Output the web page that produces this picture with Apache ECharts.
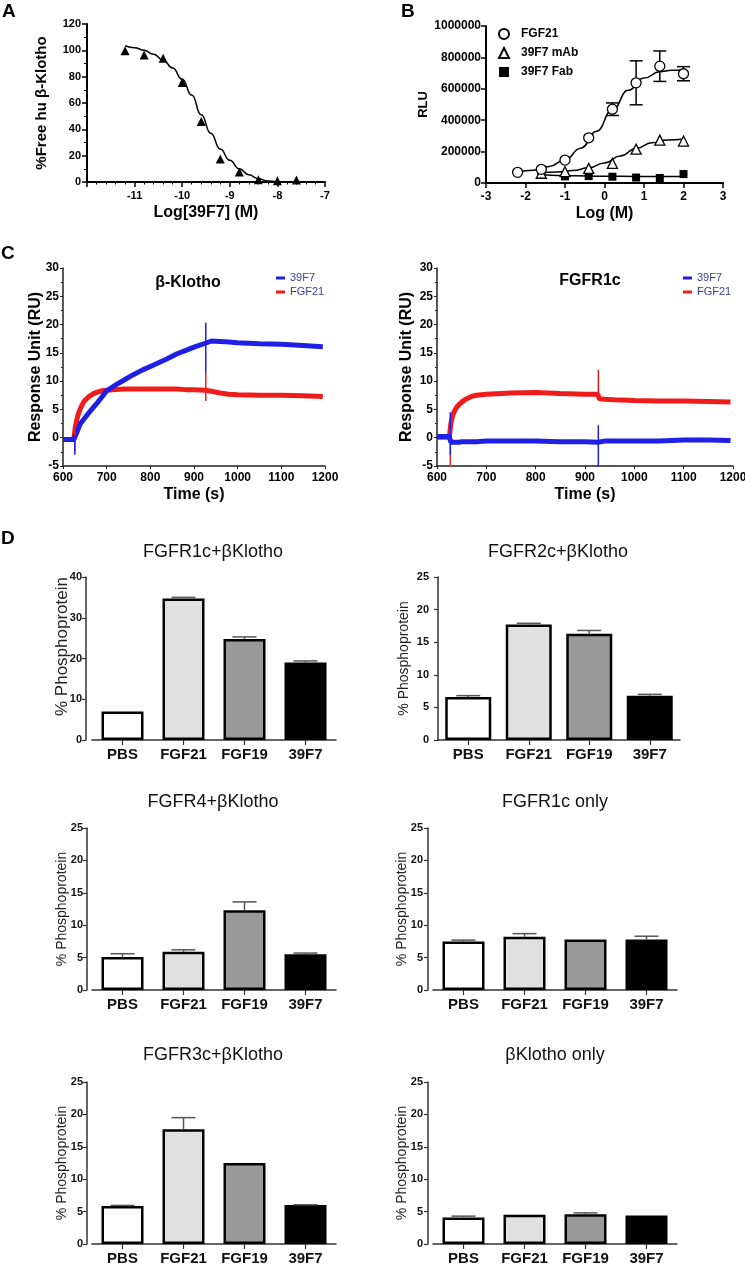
<!DOCTYPE html>
<html><head><meta charset="utf-8">
<script src="https://cdn.jsdelivr.net/npm/echarts@6/dist/echarts.min.js"></script>
<style>html,body{margin:0;padding:0;background:#fff}#c{width:745px;height:1265px}</style>
</head><body><div id="c"></div>
<script>
const FF = "'Liberation Sans', Arial, Helvetica, sans-serif";

// ---------- Panel A: binding competition ----------
const aLogConc = [-11.2, -10.8, -10.4, -10.0, -9.6, -9.2, -8.8, -8.4, -8.0, -7.6];
const aFreePct = [99.7, 96.5, 94, 75.5, 46, 17.4, 7.6, 1.8, 1, 1.5];
const aFitX = [-11.2, -11.0, -10.8, -10.6, -10.4, -10.2, -10.0, -9.8, -9.6, -9.4, -9.2, -9.0, -8.8, -8.6, -8.4, -8.2, -8.0];
const aFitY = [103.5, 102, 100, 97, 92.5, 86.5, 78, 66, 51, 37, 25, 16.5, 10, 5.5, 2.5, 0.8, 0];

// ---------- Panel B: luciferase ----------
const bLogDose = [-2.2, -1.6, -1.0, -0.4, 0.2, 0.8, 1.4, 2.0];
const bFgf21 = [68000, 87000, 146000, 288000, 470000, 638000, 744000, 696000];
const bFgf21Err = [0, 0, 0, 0, 40000, 140000, 97000, 45000];
const bAbDose = [-1.6, -1.0, -0.4, 0.2, 0.8, 1.4, 2.0];
const bMab = [62000, 72000, 93000, 125000, 216000, 273000, 267000];
const bFab = [53000, 42000, 44000, 40000, 35000, 32000, 57000];
const bFgf21FitX = [-2.2, -1.8, -1.4, -1.0, -0.6, -0.2, 0.2, 0.6, 1.0, 1.4, 1.7, 2.0];
const bFgf21FitY = [70000, 82000, 105000, 148000, 222000, 330000, 466000, 590000, 668000, 708000, 718000, 722000];
const bMabFitX = [-1.6, -1.2, -0.8, -0.4, 0, 0.4, 0.8, 1.2, 1.6, 2.0];
const bMabFitY = [66000, 70000, 79000, 97000, 128000, 172000, 220000, 256000, 274000, 281000];
const bFabFitX = [-1.6, -0.8, 0, 0.8, 1.6, 2.0];
const bFabFitY = [52000, 46000, 43000, 42000, 42000, 42000];

// ---------- Panel C: sensorgrams ----------
const cTimeL = [600, 610, 620, 625, 628, 632, 636, 640, 645, 650, 660, 670, 680, 690, 700, 720, 740, 760, 780, 800, 820, 840, 860, 880, 900, 926, 940, 960, 980, 1000, 1050, 1100, 1150, 1195];
const cKlotho39F7 = [-0.3, -0.3, -0.3, -0.3, 0.3, 1.0, 1.8, 2.5, 3.0, 3.5, 4.5, 5.4, 6.3, 7.3, 8.3, 9.3, 10.2, 11.1, 11.9, 12.6, 13.3, 14.0, 14.8, 15.4, 16.0, 16.7, 17.1, 17.0, 16.9, 16.8, 16.6, 16.5, 16.3, 16.1];
const cKlothoFGF21 = [-0.3, -0.3, -0.3, -0.2, 1.8, 3.3, 4.4, 5.2, 6.0, 6.6, 7.3, 7.8, 8.1, 8.3, 8.4, 8.5, 8.6, 8.6, 8.6, 8.6, 8.6, 8.6, 8.6, 8.5, 8.5, 8.4, 8.2, 7.9, 7.7, 7.6, 7.5, 7.5, 7.4, 7.3];
const cTimeR = [600, 610, 620, 625, 628, 632, 636, 640, 645, 650, 660, 670, 680, 700, 750, 800, 850, 900, 926, 929, 940, 960, 1000, 1050, 1100, 1150, 1195];
const cR1c39F7 = [0.2, 0.2, 0.2, 0.2, -0.8, -0.8, -0.8, -0.8, -0.8, -0.7, -0.7, -0.7, -0.7, -0.6, -0.6, -0.6, -0.7, -0.7, -0.8, -0.6, -0.6, -0.6, -0.6, -0.6, -0.4, -0.4, -0.5];
const cR1cFGF21 = [0.1, 0.1, 0.1, 0.1, 2.5, 4.0, 4.8, 5.4, 5.9, 6.3, 6.9, 7.3, 7.5, 7.7, 7.9, 8.0, 7.8, 7.7, 7.7, 6.9, 6.8, 6.7, 6.6, 6.5, 6.5, 6.4, 6.3];
// injection spikes: time, low, high
const cSpikeTime = [627, 927];
const cSpikeKlotho39F7Lo = [-3.0, 11.5], cSpikeKlotho39F7Hi = [0.5, 20.3];
const cSpikeKlothoFGF21Lo = [-2.5, 6.5], cSpikeKlothoFGF21Hi = [3.0, 11.5];
const cSpikeR1c39F7Lo = [-3.0, -5.0], cSpikeR1c39F7Hi = [4.5, 2.2];
const cSpikeR1cFGF21Lo = [-5.0, 7.0], cSpikeR1cFGF21Hi = [3.0, 12.0];

// ---------- Panel D: phosphoprotein bars ----------
const dCategories = ['PBS', 'FGF21', 'FGF19', '39F7'];
const dTitles = ['FGFR1c+βKlotho', 'FGFR2c+βKlotho', 'FGFR4+βKlotho', 'FGFR1c only', 'FGFR3c+βKlotho', 'βKlotho only'];
const dR1cKlotho = [7.0, 34.7, 24.8, 19.0], dR1cKlothoErr = [0, 0.3, 0.5, 0.4];
const dR2cKlotho = [6.6, 17.7, 16.3, 6.8], dR2cKlothoErr = [0.2, 0.2, 0.5, 0.2];
const dR4Klotho = [5.1, 5.9, 12.3, 5.5], dR4KlothoErr = [0.5, 0.3, 1.3, 0.2];
const dR1cOnly = [7.5, 8.2, 7.8, 7.8], dR1cOnlyErr = [0.2, 0.5, 0, 0.5];
const dR3cKlotho = [5.85, 17.7, 12.5, 6.0], dR3cKlothoErr = [0.1, 1.8, 0, 0.05];
const dKlothoOnly = [4.1, 4.5, 4.6, 4.4], dKlothoOnlyErr = [0.2, 0, 0.2, 0];
const dYMax = [40, 25, 25, 25, 25, 25];
const dYInterval = [10, 5, 5, 5, 5, 5];

// ---------- layout ----------
const dValues = [dR1cKlotho, dR2cKlotho, dR4Klotho, dR1cOnly, dR3cKlotho, dKlothoOnly];
const dErrs = [dR1cKlothoErr, dR2cKlothoErr, dR4KlothoErr, dR1cOnlyErr, dR3cKlothoErr, dKlothoOnlyErr];
const barColors = ['#ffffff', '#e0e0e0', '#999999', '#000000'];
const dGrids = [
  {left: 92, top: 577, width: 244, height: 163, off: 6, gap: 15.5, margin: 4, bw: 42, fs: 17, pad: [0, 0, 0, 24]},
  {left: 438, top: 577, width: 242, height: 163, off: 0, gap: 27, margin: 9, bw: 46, fs: 14, pad: 0},
  {left: 92, top: 828, width: 244, height: 162, off: 5, gap: 18, margin: 4, bw: 42, fs: 14, pad: 0},
  {left: 433, top: 828, width: 244, height: 162, off: 5, gap: 18.5, margin: 5, bw: 42, fs: 14, pad: 0},
  {left: 92, top: 1082, width: 244, height: 162, off: 5, gap: 18, margin: 4, bw: 42, fs: 14, pad: 0},
  {left: 433, top: 1082, width: 244, height: 162, off: 5, gap: 19, margin: 5, bw: 42, fs: 14, pad: 0}
];
const dTitlePos = [[213, 552], [558, 552], [213, 802], [555, 802], [213, 1055], [555, 1055]];

const grids = [
  {left: 87, top: 24, width: 238, height: 158},
  {left: 486, top: 26, width: 237, height: 157},
  {left: 63, top: 268, width: 262, height: 198},
  {left: 437, top: 268, width: 296, height: 198}
].concat(dGrids.map(g => ({left: g.left, top: g.top, width: g.width, height: g.height})));
grids.forEach(g => { g.outerBoundsMode = 'none'; g.containLabel = false; });

function valAxis(gi, min, max, interval, extra) {
  const ax = {
    type: 'value', gridIndex: gi, min: min, max: max, interval: interval,
    splitLine: {show: false},
    axisLine: {show: true, onZero: false, lineStyle: {color: '#000', width: 2}},
    axisTick: {show: true, inside: false, length: 5, lineStyle: {color: '#000', width: 1.5}},
    axisLabel: {fontFamily: FF, fontWeight: 'bold', fontSize: 11, color: '#000', margin: 6},
    nameLocation: 'middle', nameMoveOverlap: false,
    nameTextStyle: {fontFamily: FF, fontWeight: 'bold', fontSize: 15, color: '#000'}
  };
  if (extra) {
    for (const k in extra) {
      if (typeof extra[k] === 'object' && !Array.isArray(extra[k]) && ax[k] && typeof ax[k] === 'object') {
        ax[k] = Object.assign({}, ax[k], extra[k]);
      } else ax[k] = extra[k];
    }
  }
  return ax;
}

const cAxisLine = {lineStyle: {color: '#222', width: 1.5}};
const cAxisTick = {length: 3, lineStyle: {color: '#222', width: 1}};
const xAxes = [
  valAxis(0, -12, -7, 1, {name: 'Log[39F7] (M)', nameGap: 23, nameTextStyle: {fontSize: 16},
    axisLabel: {showMinLabel: false, margin: 8}, minorTick: {show: true, splitNumber: 5, length: 2.5, lineStyle: {color: '#000', width: 1}}}),
  valAxis(1, -3, 3, 1, {name: 'Log (M)', nameGap: 23, nameTextStyle: {fontSize: 16}, axisLabel: {fontSize: 12, margin: 8}}),
  valAxis(2, 600, 1200, 100, {name: 'Time (s)', nameGap: 21, nameTextStyle: {fontSize: 16},
    axisLine: cAxisLine, axisTick: cAxisTick, axisLabel: {fontSize: 12, margin: 6, formatter: v => String(v)}}),
  valAxis(3, 600, 1200, 100, {name: 'Time (s)', nameGap: 21, nameTextStyle: {fontSize: 16},
    axisLine: cAxisLine, axisTick: cAxisTick, axisLabel: {fontSize: 12, margin: 6, formatter: v => String(v)}})
];
const yAxes = [
  valAxis(0, 0, 120, 20, {name: '%Free hu β-Klotho', nameGap: 37.5,
    minorTick: {show: true, splitNumber: 2, length: 3, lineStyle: {color: '#000', width: 1}}}),
  valAxis(1, 0, 1000000, 200000, {name: 'RLU', nameGap: 56.5, nameTextStyle: {fontSize: 13},
    axisLabel: {fontSize: 12, margin: 5, formatter: v => String(v)}}),
  valAxis(2, -5, 30, 5, {name: 'Response Unit (RU)', nameGap: 19.5, nameTextStyle: {fontSize: 16},
    axisLine: cAxisLine, axisTick: cAxisTick,
    minorTick: {show: true, splitNumber: 2, length: 2, lineStyle: {color: '#222', width: 1}}, axisLabel: {fontSize: 12, margin: 4}}),
  valAxis(3, -5, 30, 5, {name: 'Response Unit (RU)', nameGap: 22.5, nameTextStyle: {fontSize: 16},
    axisLine: cAxisLine, axisTick: cAxisTick,
    minorTick: {show: true, splitNumber: 2, length: 2, lineStyle: {color: '#222', width: 1}}, axisLabel: {fontSize: 12, margin: 4}})
];

dGrids.forEach((g, i) => {
  const gi = 4 + i;
  xAxes.push({
    type: 'category', gridIndex: gi, data: dCategories,
    axisLine: {show: true, onZero: false, lineStyle: {color: '#333', width: 1.5}},
    axisTick: {show: true, alignWithLabel: true, length: 5, lineStyle: {color: '#333', width: 1.2}},
    axisLabel: {fontFamily: FF, fontWeight: 'bold', fontSize: 15, color: '#111', margin: 7, interval: 0},
    splitLine: {show: false}
  });
  yAxes.push(valAxis(gi, 0, dYMax[i], dYInterval[i], {
    offset: g.off, name: '% Phosphoprotein', nameGap: g.gap,
    nameTextStyle: {fontSize: g.fs, fontWeight: 'normal', color: '#222', padding: g.pad},
    axisLine: {lineStyle: {color: '#333', width: 1.5}},
    axisTick: {length: 4, lineStyle: {color: '#333', width: 1.2}},
    axisLabel: {fontSize: 11, margin: g.margin, color: '#111'}
  }));
});

function zip(xs, ys) { return xs.map((x, i) => [x, ys[i]]); }

function errRender(capHalf, color) {
  return function (params, api) {
    const x = api.value(0), y = api.value(1), e = api.value(2), both = api.value(3);
    if (!e) return null;
    const top = api.coord([x, y + e]);
    const bot = api.coord([x, both ? y - e : y]);
    const children = [
      {type: 'line', shape: {x1: top[0], y1: bot[1], x2: top[0], y2: top[1]}, style: {stroke: color, lineWidth: 1.5}},
      {type: 'line', shape: {x1: top[0] - capHalf, y1: top[1], x2: top[0] + capHalf, y2: top[1]}, style: {stroke: color, lineWidth: 1.5}}
    ];
    if (both) children.push({type: 'line', shape: {x1: bot[0] - capHalf, y1: bot[1], x2: bot[0] + capHalf, y2: bot[1]}, style: {stroke: color, lineWidth: 1.5}});
    return {type: 'group', children: children};
  };
}
function spikeSeries(gi, times, lo, hi, color) {
  return {
    type: 'custom', xAxisIndex: gi, yAxisIndex: gi, z: 4, silent: true,
    data: times.map((t, i) => [t, lo[i], hi[i]]),
    renderItem: function (params, api) {
      const a = api.coord([api.value(0), api.value(1)]);
      const b = api.coord([api.value(0), api.value(2)]);
      return {type: 'line', shape: {x1: a[0], y1: a[1], x2: b[0], y2: b[1]}, style: {stroke: color, lineWidth: 1.5}};
    }
  };
}

const BLUE = '#1f1fe6', RED = '#f01c1c';
const series = [
  // A
  {type: 'line', xAxisIndex: 0, yAxisIndex: 0, data: zip(aFitX, aFitY), smooth: true, smoothMonotone: 'x', showSymbol: false, lineStyle: {color: '#000', width: 1.5}, z: 2},
  {type: 'scatter', xAxisIndex: 0, yAxisIndex: 0, data: zip(aLogConc, aFreePct), symbol: 'triangle', symbolSize: 9, itemStyle: {color: '#000', opacity: 1}, z: 3},
  // B
  {type: 'custom', xAxisIndex: 1, yAxisIndex: 1, z: 1, data: bLogDose.map((x, i) => [x, bFgf21[i], bFgf21Err[i], 1]), renderItem: errRender(6.5, '#000')},
  {type: 'line', xAxisIndex: 1, yAxisIndex: 1, data: zip(bFgf21FitX, bFgf21FitY), smooth: true, smoothMonotone: 'x', showSymbol: false, lineStyle: {color: '#000', width: 1.5}, z: 2},
  {type: 'line', xAxisIndex: 1, yAxisIndex: 1, data: zip(bMabFitX, bMabFitY), smooth: true, smoothMonotone: 'x', showSymbol: false, lineStyle: {color: '#000', width: 1.5}, z: 2},
  {type: 'line', xAxisIndex: 1, yAxisIndex: 1, data: zip(bFabFitX, bFabFitY), smooth: true, smoothMonotone: 'x', showSymbol: false, lineStyle: {color: '#000', width: 1.5}, z: 2},
  {name: '39F7 Fab', type: 'scatter', xAxisIndex: 1, yAxisIndex: 1, data: zip(bAbDose, bFab), symbol: 'rect', symbolSize: 8, itemStyle: {color: '#000', opacity: 1}, z: 3},
  {name: '39F7 mAb', type: 'scatter', xAxisIndex: 1, yAxisIndex: 1, data: zip(bAbDose, bMab), symbol: 'triangle', symbolSize: 10, itemStyle: {color: '#fff', borderColor: '#000', borderWidth: 1.3, opacity: 1}, z: 4},
  {name: 'FGF21', type: 'scatter', xAxisIndex: 1, yAxisIndex: 1, data: zip(bLogDose, bFgf21), symbol: 'circle', symbolSize: 10, itemStyle: {color: '#fff', borderColor: '#000', borderWidth: 1.3, opacity: 1}, z: 4},
  // C left
  {name: 'FGF21 ', type: 'line', xAxisIndex: 2, yAxisIndex: 2, data: zip(cTimeL, cKlothoFGF21), showSymbol: false, lineStyle: {color: RED, width: 5}, itemStyle: {color: RED}, z: 2},
  {name: '39F7 ', type: 'line', xAxisIndex: 2, yAxisIndex: 2, data: zip(cTimeL, cKlotho39F7), showSymbol: false, lineStyle: {color: BLUE, width: 5}, itemStyle: {color: BLUE}, z: 3},
  spikeSeries(2, cSpikeTime, cSpikeKlothoFGF21Lo, cSpikeKlothoFGF21Hi, RED),
  spikeSeries(2, cSpikeTime, cSpikeKlotho39F7Lo, cSpikeKlotho39F7Hi, BLUE),
  // C right
  {name: 'FGF21 ', type: 'line', xAxisIndex: 3, yAxisIndex: 3, data: zip(cTimeR, cR1cFGF21), showSymbol: false, lineStyle: {color: RED, width: 5}, itemStyle: {color: RED}, z: 2},
  {name: '39F7 ', type: 'line', xAxisIndex: 3, yAxisIndex: 3, data: zip(cTimeR, cR1c39F7), showSymbol: false, lineStyle: {color: BLUE, width: 5}, itemStyle: {color: BLUE}, z: 3},
  spikeSeries(3, cSpikeTime, cSpikeR1cFGF21Lo, cSpikeR1cFGF21Hi, RED),
  spikeSeries(3, cSpikeTime, cSpikeR1c39F7Lo, cSpikeR1c39F7Hi, BLUE)
];

dGrids.forEach((g, i) => {
  const gi = 4 + i;
  series.push({
    type: 'bar', xAxisIndex: gi, yAxisIndex: gi, barWidth: g.bw, z: 2,
    data: dValues[i].map((v, j) => ({value: v, itemStyle: {color: barColors[j]}})),
    itemStyle: {borderColor: '#000', borderWidth: 2.5}
  });
  series.push({
    type: 'custom', xAxisIndex: gi, yAxisIndex: gi, z: 3, silent: true,
    data: dValues[i].map((v, j) => [j, v, dErrs[i][j], 0]),
    renderItem: errRender(12, '#555')
  });
});

const graphics = [];
[['A', 2, 12], ['B', 401, 12], ['C', 1, 254], ['D', 1, 539]].forEach(p => {
  graphics.push({type: 'text', x: p[1], y: p[2], style: {text: p[0], font: 'bold 19px ' + FF, fill: '#000', align: 'left', verticalAlign: 'middle', textAlign: 'left', textVerticalAlign: 'middle'}});
});
[['β-Klotho', 188, 283], ['FGFR1c', 590, 281]].forEach(p => {
  graphics.push({type: 'text', x: p[1], y: p[2], style: {text: p[0], font: 'bold 16px ' + FF, fill: '#000', align: 'center', verticalAlign: 'middle', textAlign: 'center', textVerticalAlign: 'middle'}});
});
dTitles.forEach((t, i) => {
  graphics.push({type: 'text', x: dTitlePos[i][0], y: dTitlePos[i][1], style: {text: t, font: '18px ' + FF, fill: '#111', align: 'center', verticalAlign: 'middle', textAlign: 'center', textVerticalAlign: 'middle'}});
});

const legends = [
  {data: [{name: 'FGF21', icon: 'circle'}, {name: '39F7 mAb', icon: 'triangle'}, {name: '39F7 Fab', icon: 'rect'}],
   left: 498, top: 28, padding: 0, orient: 'vertical',
   itemWidth: 10, itemHeight: 10, itemGap: 7, selectedMode: false,
   textStyle: {fontFamily: FF, fontWeight: 'bold', fontSize: 12, color: '#000', padding: [0, 0, 0, 7]}},
  {data: ['39F7 ', 'FGF21 '], left: 276, top: 272.5, padding: 0, orient: 'vertical', icon: 'rect', itemWidth: 9, itemHeight: 3, itemGap: 3,
   selectedMode: false, formatter: n => n.trim(), textStyle: {fontFamily: FF, fontSize: 11, color: '#3a3aa8'}},
  {data: ['39F7 ', 'FGF21 '], left: 683, top: 272.5, padding: 0, orient: 'vertical', icon: 'rect', itemWidth: 9, itemHeight: 3, itemGap: 3,
   selectedMode: false, formatter: n => n.trim(), textStyle: {fontFamily: FF, fontSize: 11, color: '#3a3aa8'}}
];

const chart = echarts.init(document.getElementById('c'), null, {renderer: 'canvas'});
chart.setOption({
  animation: false,
  backgroundColor: '#fff',
  textStyle: {fontFamily: FF},
  grid: grids,
  xAxis: xAxes,
  yAxis: yAxes,
  legend: legends,
  graphic: graphics,
  series: series
});
</script>
</body></html>
